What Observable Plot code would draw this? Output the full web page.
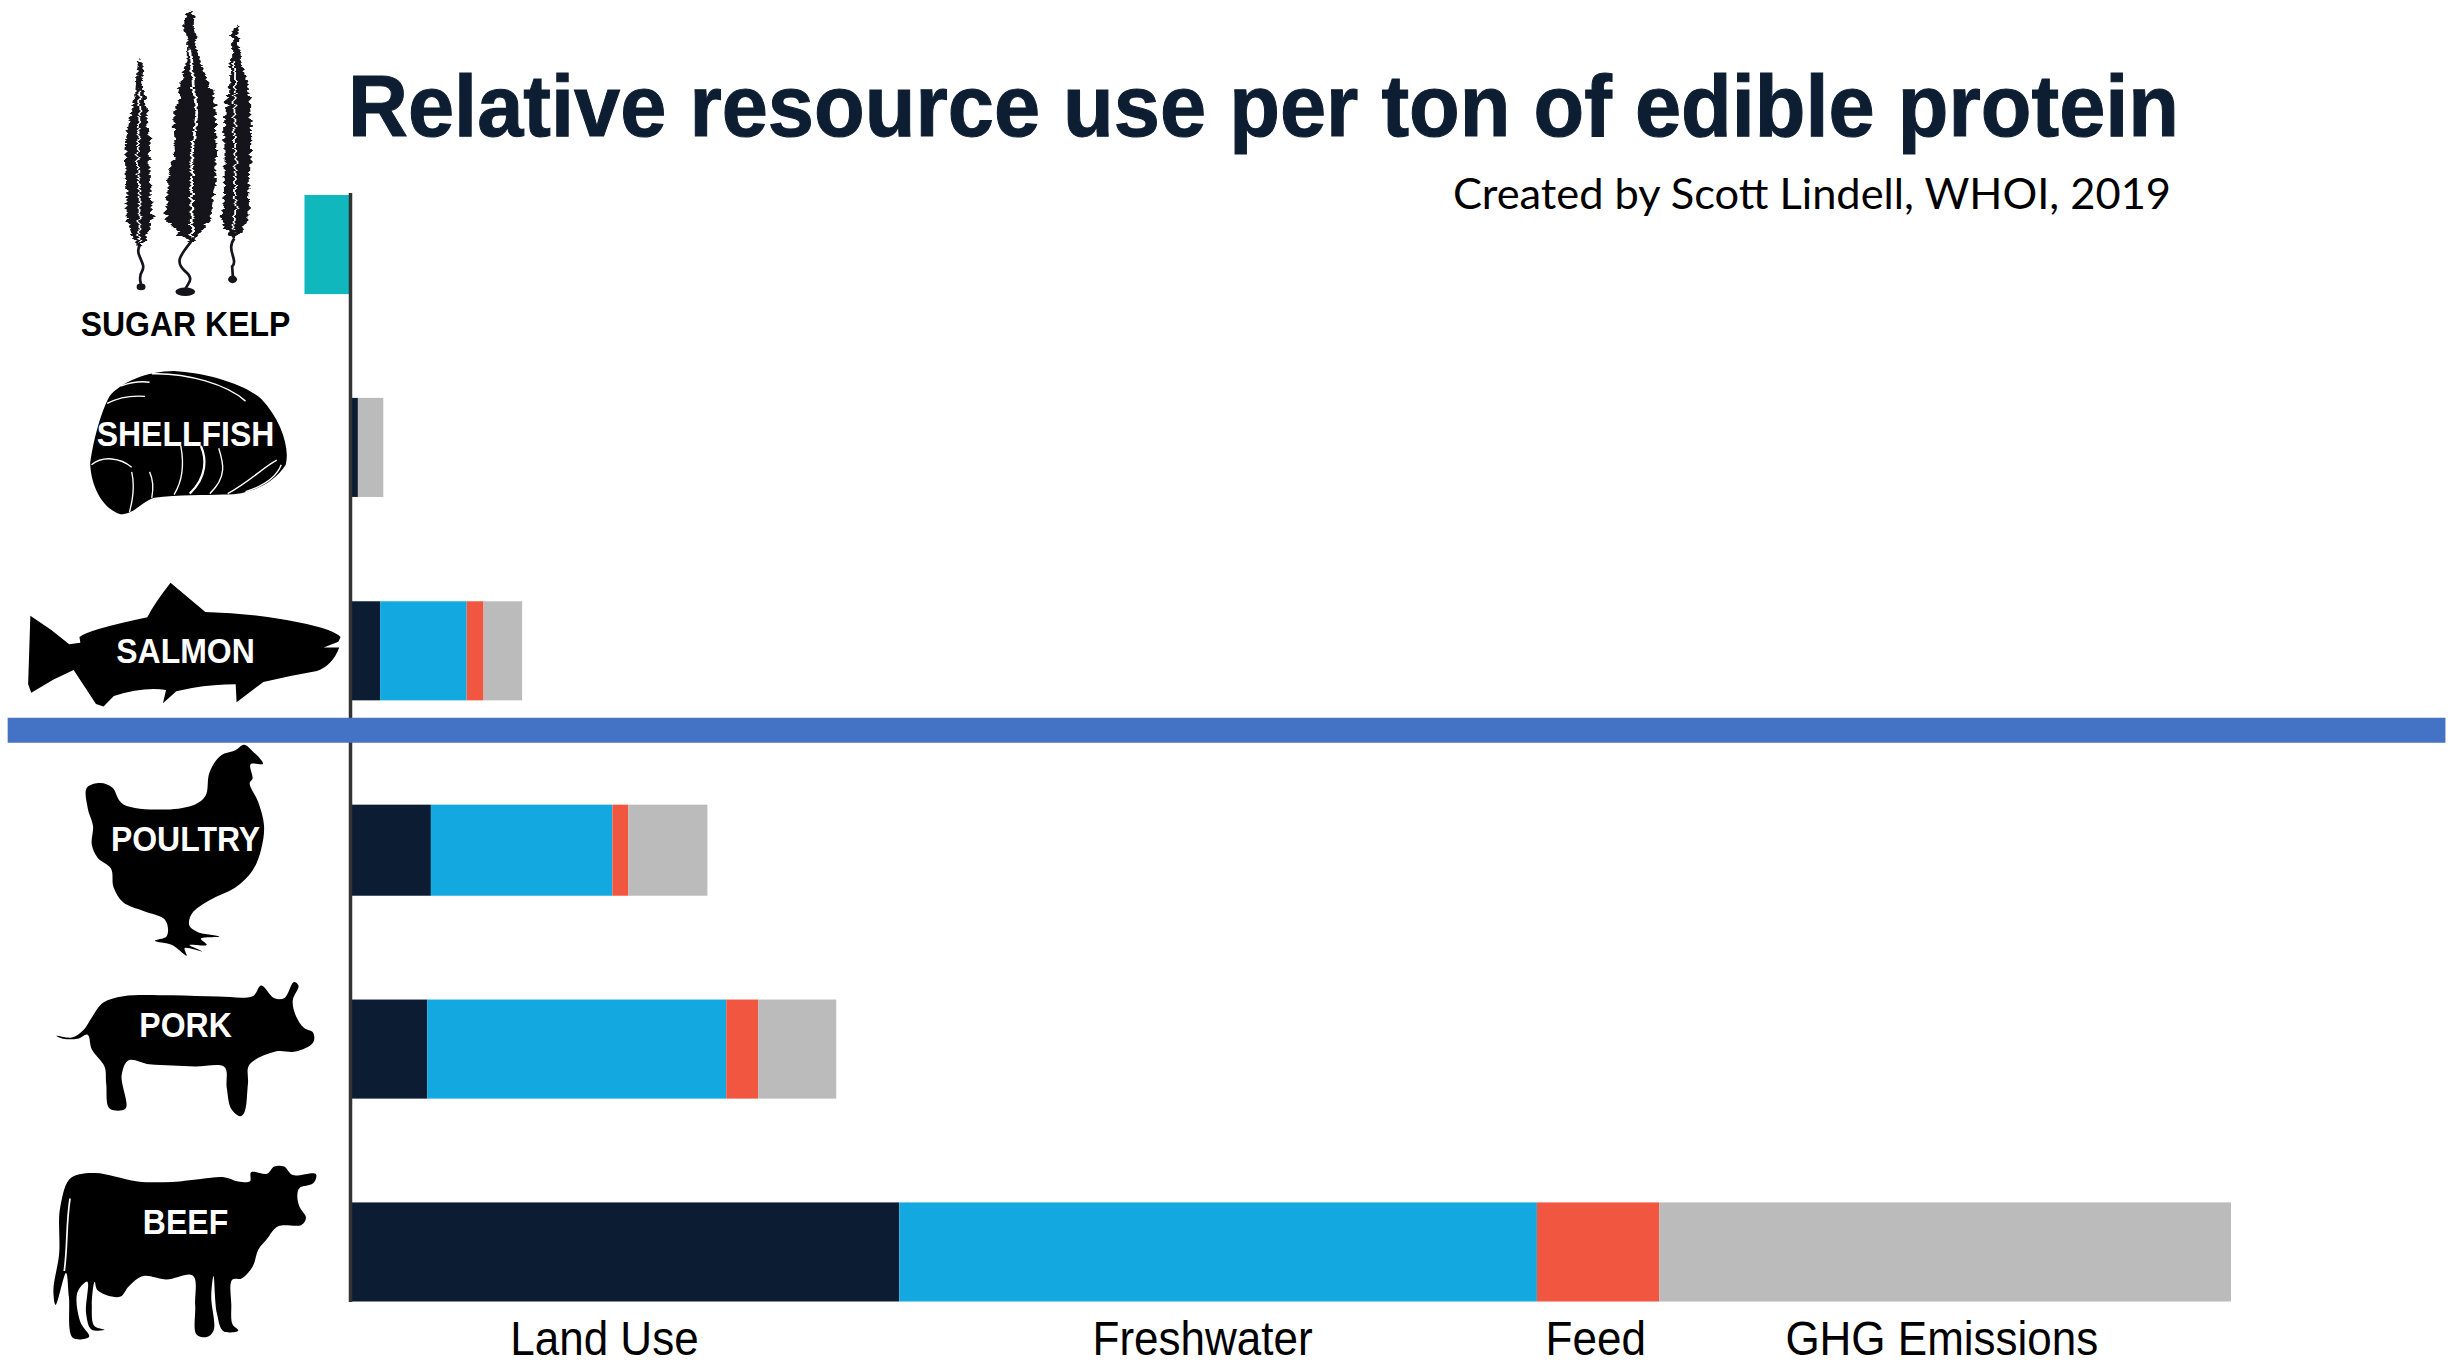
<!DOCTYPE html>
<html>
<head>
<meta charset="utf-8">
<script src="https://cdn.jsdelivr.net/npm/d3@7"></script>
<script src="https://cdn.jsdelivr.net/npm/@observablehq/plot@0.6"></script>
<style>
html,body{margin:0;padding:0;background:#fff;overflow:hidden}
#page{position:relative;width:2456px;height:1368px}
#title{position:absolute;left:348px;top:66px;margin:0;font:bold 83px/1 "Liberation Sans",Arial,sans-serif;color:#0D1E33;white-space:nowrap;-webkit-text-stroke:1px #0D1E33;transform:scaleY(1.05);transform-origin:0 70px}
#credit{position:absolute;right:285px;top:171px;font:43.4px/1 Lato,sans-serif;color:#000;white-space:nowrap}
#chart{position:absolute;left:0;top:0}
</style>
</head>
<body>
<div id="page">
<div id="chart"></div>
<h1 id="title">Relative resource use per ton of edible protein</h1>
<div id="credit">Created by Scott Lindell, WHOI, 2019</div>
</div>
<script>
// Values are relative: beef's whole stack = 100.
const categories = ["SUGAR KELP", "SHELLFISH", "SALMON", "POULTRY", "PORK", "BEEF"];
const landUse    = [0,    0.42, 1.6,  4.3,  4.1,  29.2];
const freshwater = [0,    0,    4.6,  9.65, 15.9, 33.9];
const feed       = [0,    0,    0.9,  0.85, 1.7,  6.5];
const ghg        = [0,    1.35, 2.05, 4.2,  4.15, 30.4];
const ghgUptake  = [-2.42, 0,   0,    0,    0,    0];

const seriesNames  = ["Land Use", "Freshwater", "Feed", "GHG Emissions", "Uptake"];
const seriesColors = ["#0C1D33", "#13A9E0", "#F15641", "#BABBBA", "#10B7BC"];
const columnLabels = ["Land Use", "Freshwater", "Feed", "GHG Emissions"];
const columnAt     = [13.5, 45.3, 66.2, 84.6];

const seriesValues = [landUse, freshwater, feed, ghg, ghgUptake];
const rows = categories.flatMap((category, i) =>
  seriesNames.map((series, s) => ({category, series, value: seriesValues[s][i]})));

const NS = "http://www.w3.org/2000/svg";
const squeeze = k => (index, scales, values, dims, ctx, next) => {
  const g = next(index, scales, values, dims, ctx);
  const w = document.createElementNS(NS, "g");
  w.appendChild(g);
  w.setAttribute("style", `transform-box:fill-box;transform-origin:center;transform:scaleY(${k})`);
  return w;
};

const rowBar = (cat, dy = 0, inset = 0) =>
  Plot.barX(rows.filter(d => d.category === cat && d.value !== 0), {
    x: "value", y: "category", fill: "series", dy, insetTop: inset, insetBottom: inset
  });

const rowLabel = (name, dy, fill) =>
  Plot.text([name], {
    x: () => -8.77, y: d => d, text: d => d, dy, fill,
    fontFamily: "Liberation Sans", fontWeight: "bold", fontSize: 32,
    render: squeeze(1.12)
  });

const smooth = s => {
  const n = s.trim().split(/\s+/).map(p => p.split(",").map(Number));
  return d3.line().curve(d3.curveCatmullRomClosed.alpha(0.5))(n);
};
const kelp = `
<filter id="rag" x="-30%" y="-5%" width="160%" height="110%" color-interpolation-filters="sRGB">
<feTurbulence type="fractalNoise" baseFrequency="0.015 0.3" numOctaves="2" seed="4"/>
<feDisplacementMap in="SourceGraphic" scale="9" xChannelSelector="R" yChannelSelector="G"/>
</filter>
<g filter="url(#rag)"><g transform="scale(0.4464,0.4719)" fill="#14141a">
<path d="M312 125L320 135L317 165L325 215L332 280L336 310L335 360L338 420L342 465L325 510L313 525L298 505L284 465L283 400L280 340L283 290L293 240L303 200L306 150Z"/>
<path d="M425 22L436 32L434 52L440 75L436 90L448 130L468 178L482 210L485 300L482 370L486 380L476 430L470 470L450 492L430 515L400 492L370 460L376 400L374 378L392 330L388 240L400 208L406 168L418 125L420 85L412 45Z"/>
<path d="M527 52L535 65L533 90L538 115L548 155L560 215L563 300L558 420L556 470L538 495L525 510L505 485L495 465L504 410L502 260L512 190L520 130L520 75Z"/>
<g fill="none" stroke="#fff" stroke-width="6">
<path d="M312 190L312 250L308 330L313 420L312 512" stroke-width="4"/>
<path d="M425 105L433 180L441 240L430 330L429 420L432 505"/>
<path d="M527 130L525 250L529 400L525 490" stroke-width="4"/>
</g></g></g>
<g transform="scale(0.4464,0.4719)" fill="#14141a">
<g fill="none" stroke="#14141a" stroke-width="6">
<path d="M313 520C300 540 330 558 318 575C308 590 318 600 316 610"/>
<path d="M428 512C405 540 390 555 415 575C440 595 415 602 415 616"/>
<path d="M525 505C505 530 535 550 520 565L522 590"/>
</g>
<ellipse cx="316" cy="608" rx="10" ry="7"/><ellipse cx="415" cy="618" rx="22" ry="9"/><ellipse cx="521" cy="592" rx="10" ry="8"/>
</g>`;
const mussel = `
<g transform="scale(0.4464,0.4719)">
<path fill="#000" d="M202 980C203 1030 230 1078 270 1090C300 1090 320 1062 345 1055C400 1048 460 1050 500 1048C550 1050 610 1030 640 985C650 950 630 890 585 845C545 812 460 790 390 786C330 786 270 810 245 840C225 875 210 930 202 980Z"/>
<g fill="none" stroke="#fff" stroke-width="3">
<path d="M205 985C230 965 270 970 295 990"/><path d="M290 1085C300 1050 300 1020 295 1000"/><path d="M340 1055C345 1030 340 1010 335 1000"/>
<path d="M390 1048C415 1010 410 970 405 945"/><path d="M425 1046C465 1010 462 970 450 945" stroke-width="5"/><path d="M470 1046C510 1010 500 980 490 950"/>
<path d="M510 1046C560 1020 590 990 620 975"/><path d="M550 1042C590 1030 620 1010 630 985"/><path d="M240 855C270 840 300 838 325 840"/>
<path d="M340 792C420 790 510 815 550 850"/><path d="M270 818C300 808 320 808 335 810"/>
</g>
</g>`;
const salmon = `
<g transform="scale(0.4464,0.4719)">
<path fill="#000" d="M68 1305L115 1335L155 1365L180 1362L178 1350Q195 1335 330 1308Q345 1280 382 1235L460 1297Q600 1300 720 1330Q755 1340 763 1350L758 1360L725 1372L760 1372Q745 1410 710 1422Q650 1432 590 1445L530 1488L528 1450Q480 1450 430 1458L395 1465L365 1490L372 1462Q320 1455 255 1475L232 1497L215 1492L165 1420L120 1440L70 1468L63 1450Z"/>
</g>`;
const henPts = "425,105 440,120 458,150 437,150 440,185 435,195 450,240 460,295 455,350 440,400 410,440 365,470 335,500 330,530 345,545 382,555 350,560 360,575 330,575 352,590 322,582 325,600 300,575 270,565 290,555 287,515 250,495 215,475 198,440 193,395 170,370 160,340 162,295 153,255 152,205 175,195 195,205 215,245 290,257 340,245 358,225 365,170 385,130 410,118";
const pigPts = "98,788 125,792 145,775 160,745 180,710 215,695 300,693 380,696 440,695 455,670 478,700 495,700 512,662 520,670 510,705 515,740 530,770 545,780 545,805 515,825 480,825 435,855 432,900 425,970 418,977 403,960 395,910 390,860 340,860 300,858 260,855 225,845 212,880 218,960 192,960 185,900 182,860 160,820 152,785 135,795 110,795";
const cowPts = "105,1190 125,1120 165,1110 200,1118 240,1130 300,1131 350,1124 390,1120 415,1130 435,1130 438,1108 465,1112 478,1095 495,1095 510,1115 550,1112 545,1135 522,1145 518,1165 522,1190 533,1215 525,1232 485,1235 465,1265 450,1290 440,1330 420,1358 405,1360 403,1420 405,1465 415,1480 390,1482 378,1440 372,1352 368,1400 372,1480 360,1495 343,1490 340,1420 335,1350 290,1360 250,1352 225,1375 210,1400 195,1400 170,1385 165,1365 160,1420 165,1470 182,1478 160,1478 150,1440 152,1365 135,1390 140,1460 155,1495 128,1498 120,1400 115,1345 97,1420 93,1385 103,1300";
const farm = `
<g transform="translate(0,700) scale(0.574,0.4261)" fill="#000">
<path d="${smooth(henPts)}"/>
<path d="${smooth(pigPts)}"/>
<path d="${smooth(cowPts)}"/>
<path d="M122 1170C115 1230 118 1280 112 1340" fill="none" stroke="#fff" stroke-width="3"/>
</g>`;

const icons = () => {
  const g = document.createElementNS(NS, "g");
  g.innerHTML = kelp + mussel + salmon + farm;
  return g;
};

const plot = Plot.plot({
  width: 2456, height: 1368,
  marginTop: 193, marginBottom: 66, marginLeft: 350, marginRight: 225,
  style: {background: "transparent"},
  x: {axis: null, domain: [0, 100], range: [350, 2231]},
  y: {axis: null, domain: categories, range: [195.5, 1301.5], paddingInner: 0.508, paddingOuter: 0, round: false},
  color: {domain: seriesNames, range: seriesColors},
  marks: [
    rowBar("SUGAR KELP", -0.5),
    rowBar("SHELLFISH", 1),
    rowBar("SALMON", 3),
    rowBar("POULTRY", 1, 4),
    rowBar("PORK", -1.5),
    rowBar("BEEF", 0),
    Plot.ruleX([0], {stroke: "#333", strokeWidth: 3.5}),
    Plot.ruleY(["POULTRY"], {x1: -18.2, x2: 111.4, dy: -119.5, stroke: "#4472C4", strokeWidth: 25}),
    icons,
    rowLabel("SUGAR KELP", 79, "#000"),
    rowLabel("SHELLFISH", -13, "#fff"),
    rowLabel("SALMON", 3, "#fff"),
    rowLabel("POULTRY", -10, "#fff"),
    rowLabel("PORK", -25.5, "#fff"),
    rowLabel("BEEF", -30, "#fff"),
    Plot.text(columnLabels, {
      x: columnAt, frameAnchor: "bottom", dy: 51,
      fontFamily: "Liberation Sans", fontSize: 44, fill: "#000",
      render: squeeze(1.08)
    })
  ]
});
document.getElementById("chart").appendChild(plot);
</script>
</body>
</html>
